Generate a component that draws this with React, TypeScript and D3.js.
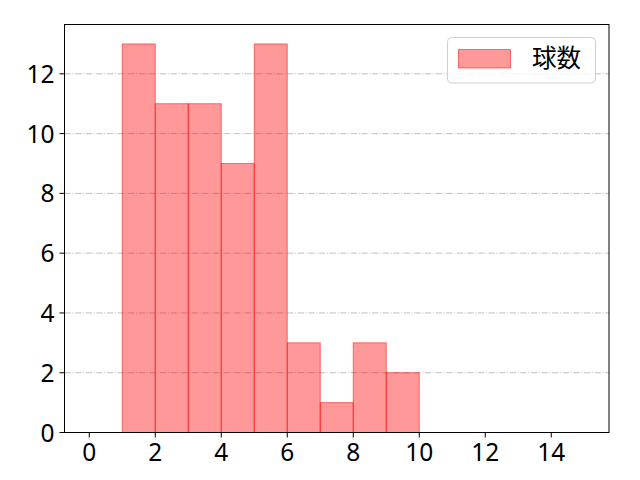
import React from "react";
import * as d3 from "d3";

const binEdges = [0, 1, 2, 3, 4, 5, 6, 7, 8, 9, 10, 11, 12, 13, 14, 15];
const counts = [0, 13, 11, 11, 9, 13, 3, 1, 3, 2, 0, 0, 0, 0, 0];
const xTicks = [0, 2, 4, 6, 8, 10, 12, 14];
const yTicks = [0, 2, 4, 6, 8, 10, 12];
const seriesName = "球数";

export default function App() {
  const W = 640, H = 480;
  const L = 64.5, R = 609, T = 24.5, B = 432.5;
  const x = d3.scaleLinear().domain([-0.75, 15.75]).range([L, R]);
  const y = d3.scaleLinear().domain([0, 13.65]).range([B, T]);
  const font = "'Noto Sans', 'Noto Sans CJK JP', sans-serif";
  const cjk = "'Noto Sans CJK JP', sans-serif";
  const fs = 24.5;
  const bins = counts.map((c, i) => ({ x0: binEdges[i], x1: binEdges[i + 1], c }));
  return (
    <svg width={W} height={H} style={{ position: "absolute", left: 0, top: 0 }}>
      <rect x={0} y={0} width={W} height={H} fill="#fff" />
      {yTicks.filter((t) => t !== 0).map((t) => (
        <line key={"g" + t} x1={L} x2={R} y1={y(t)} y2={y(t)} stroke="#b0b0b0" strokeWidth={0.8} strokeDasharray="6.4 1.6 1 1.6" />
      ))}
      {bins.map((b, i) => (
        <rect key={i} x={x(b.x0)} y={y(b.c)} width={x(b.x1) - x(b.x0)} height={B - y(b.c)}
          fill="rgba(255,0,0,0.4)" stroke="rgba(255,0,0,0.5)" strokeWidth={1} />
      ))}
      <rect x={L} y={T} width={R - L} height={B - T} fill="none" stroke="#000" strokeWidth={1} />
      {xTicks.map((t) => (
        <g key={"x" + t}>
          <line x1={x(t)} x2={x(t)} y1={B} y2={B + 5} stroke="#000" />
          <text x={x(t)} y={461} fontSize={fs} textAnchor="middle" fontFamily={font} fill="#000">{t}</text>
        </g>
      ))}
      {yTicks.map((t) => (
        <g key={"y" + t}>
          <line x1={L - 5} x2={L} y1={y(t)} y2={y(t)} stroke="#000" />
          <text x={L - 10} y={y(t) + 9} fontSize={fs} textAnchor="end" fontFamily={font} fill="#000">{t}</text>
        </g>
      ))}
      <g>
        <rect x={447.5} y={37.5} width={148} height={45.5} rx={4} fill="rgba(255,255,255,0.8)" stroke="#d0d0d0" />
        <rect x={458.5} y={49.5} width={52} height={18.5} fill="rgba(255,0,0,0.4)" stroke="rgba(255,0,0,0.5)" />
        <text x={532} y={58} dy="0.36em" fontSize={fs} fontFamily={cjk} fill="#000">{seriesName}</text>
      </g>
    </svg>
  );
}
